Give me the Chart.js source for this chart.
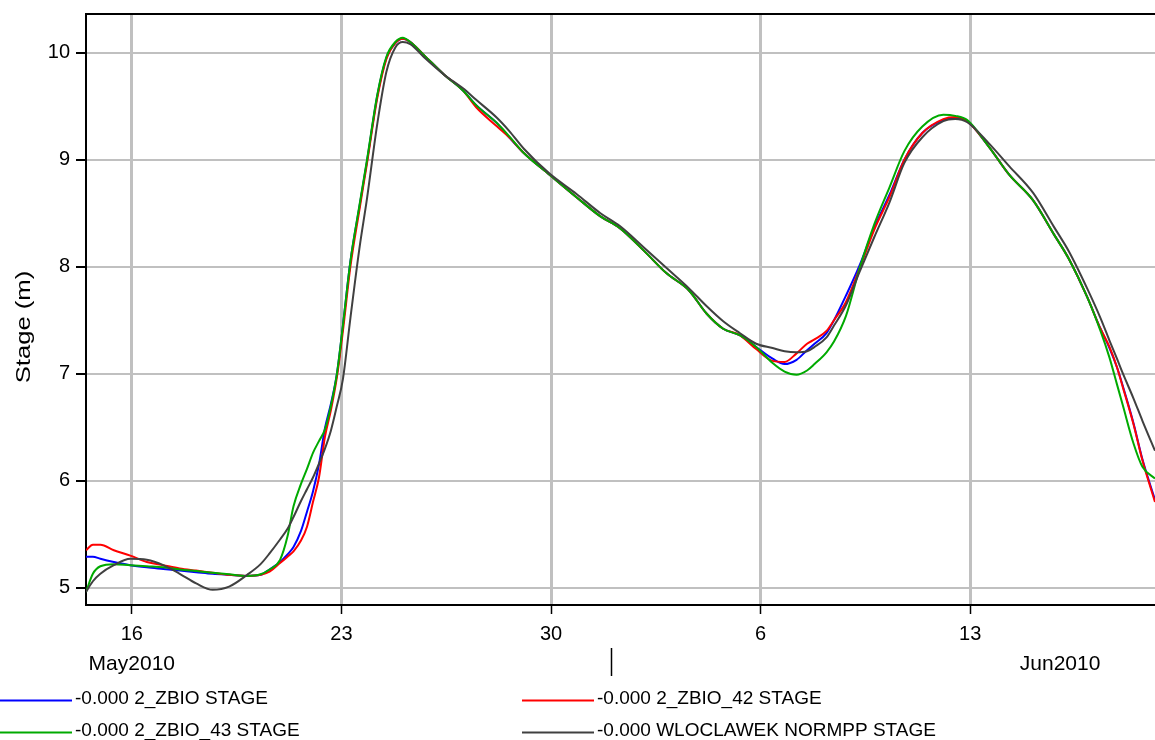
<!DOCTYPE html>
<html>
<head>
    <meta charset="utf-8" />
    <title>Stage</title>
    <script src="https://cdn.jsdelivr.net/npm/chart.js@4.4.0/dist/chart.umd.min.js"></script>
    <style>
        body {
            margin: 0;
            background: #ffffff;
        }
        #wrap {
            width: 1155px;
            height: 740px;
        }
    </style>
</head>
<body>
<div id="wrap">
    <canvas id="stageChart" width="1155" height="740"></canvas>
</div>

<script>
    // day numbers counted from 1 May 2010 (32 = 1 June)
    const days = [14.47, 14.7, 14.95, 15.4, 15.95, 16.5, 17.05, 17.6, 18.15, 18.7,
        19.25, 19.85, 20.3, 20.6, 20.95, 21.2, 21.4, 21.65, 21.85, 22.05,
        22.25, 22.45, 22.65, 22.85, 23.05, 23.3, 23.6, 23.85, 24.2, 24.5,
        24.8, 25.05, 25.3, 25.75, 26.45, 27.05, 27.5, 28.2, 28.6, 29.1,
        29.95, 30.85, 31.65, 32.3, 33.1, 33.85, 34.6, 35.2, 35.75, 36.3,
        36.85, 37.4, 37.8, 38.2, 38.55, 38.8, 39.2, 39.45, 39.85, 40.3,
        40.8, 41.3, 41.8, 42.4, 43.1, 43.5, 43.9, 44.6, 45.3, 46.1,
        46.8, 47.3, 47.9, 48.35, 48.65, 48.9, 49.1, 49.45, 49.75, 50.17];

    const zbioStage = [5.29, 5.29, 5.27, 5.24, 5.21, 5.19, 5.175, 5.16, 5.145, 5.13,
        5.12, 5.11, 5.12, 5.17, 5.24, 5.31, 5.38, 5.53, 5.71, 5.90,
        6.15, 6.49, 6.72, 7.00, 7.45, 8.05, 8.56, 8.98, 9.60, 9.95,
        10.09, 10.13, 10.10, 9.98, 9.79, 9.65, 9.51, 9.34, 9.21, 9.06,
        8.86, 8.65, 8.47, 8.36, 8.15, 7.94, 7.78, 7.56, 7.42, 7.36,
        7.25, 7.14, 7.09, 7.13, 7.22, 7.28, 7.38, 7.50, 7.73, 8.01,
        8.37, 8.67, 9.00, 9.25, 9.37, 9.39, 9.36, 9.13, 8.86, 8.62,
        8.30, 8.07, 7.72, 7.42, 7.24, 7.06, 6.88, 6.54, 6.20, 5.82];

    const zbio42Stage = [5.35, 5.40, 5.40, 5.35, 5.30, 5.24, 5.21, 5.18, 5.16, 5.14,
        5.12, 5.11, 5.12, 5.15, 5.23, 5.29, 5.34, 5.44, 5.57, 5.80,
        6.03, 6.41, 6.66, 6.97, 7.40, 8.00, 8.53, 8.96, 9.58, 9.94,
        10.09, 10.13, 10.10, 9.98, 9.79, 9.65, 9.49, 9.31, 9.21, 9.06,
        8.86, 8.65, 8.47, 8.36, 8.15, 7.94, 7.78, 7.56, 7.42, 7.36,
        7.23, 7.12, 7.11, 7.19, 7.28, 7.32, 7.40, 7.50, 7.67, 7.98,
        8.35, 8.65, 9.00, 9.25, 9.38, 9.40, 9.36, 9.13, 8.86, 8.62,
        8.30, 8.07, 7.72, 7.42, 7.25, 7.06, 6.87, 6.53, 6.19, 5.80];

    const zbio43Stage = [4.96, 5.13, 5.20, 5.22, 5.21, 5.20, 5.19, 5.17, 5.155, 5.14,
        5.125, 5.11, 5.125, 5.17, 5.26, 5.48, 5.76, 5.97, 6.11, 6.26,
        6.37, 6.48, 6.70, 7.00, 7.45, 8.05, 8.57, 8.99, 9.61, 9.96,
        10.10, 10.14, 10.10, 9.98, 9.79, 9.65, 9.51, 9.34, 9.22, 9.06,
        8.86, 8.65, 8.47, 8.36, 8.15, 7.94, 7.78, 7.56, 7.42, 7.36,
        7.25, 7.10, 7.02, 6.99, 7.03, 7.09, 7.20, 7.30, 7.54, 7.98,
        8.40, 8.74, 9.08, 9.31, 9.42, 9.41, 9.37, 9.13, 8.86, 8.62,
        8.30, 8.07, 7.72, 7.40, 7.15, 6.90, 6.70, 6.35, 6.13, 6.02];

    const wloclawekStage = [4.96, 5.06, 5.13, 5.21, 5.27, 5.26, 5.21, 5.13, 5.04, 4.98,
        5.01, 5.12, 5.22, 5.32, 5.45, 5.55, 5.66, 5.81, 5.92, 6.03,
        6.16, 6.30, 6.47, 6.70, 6.95, 7.52, 8.17, 8.63, 9.34, 9.82,
        10.05, 10.10, 10.08, 9.96, 9.79, 9.67, 9.56, 9.39, 9.27, 9.10,
        8.87, 8.68, 8.50, 8.38, 8.18, 7.99, 7.80, 7.63, 7.49, 7.38,
        7.28, 7.24, 7.21, 7.20, 7.21, 7.25, 7.34, 7.45, 7.64, 7.95,
        8.28, 8.60, 8.97, 9.21, 9.36, 9.38, 9.35, 9.16, 8.94, 8.69,
        8.37, 8.14, 7.80, 7.52, 7.31, 7.14, 7.00, 6.77, 6.56, 6.28];

    const seriesNames = ['-0.000 2_ZBIO STAGE', '-0.000 2_ZBIO_42 STAGE',
        '-0.000 2_ZBIO_43 STAGE', '-0.000 WLOCLAWEK NORMPP STAGE'];
    const seriesColors = ['#0000ff', '#ff0000', '#00aa00', '#404040'];

    const tickDays = [16, 23, 30, 37, 44];
    const tickLabels = ['16', '23', '30', '6', '13'];
    const stageTicks = [5, 6, 7, 8, 9, 10];
    const monthLabels = ['May2010', 'Jun2010'];
    const monthLabelDays = [16, 47];
    const monthBreakDay = 32;

    const FONT = "'Liberation Sans', Arial, sans-serif";

    function toPoints(values) {
        return days.map((d, i) => ({ x: d, y: values[i] }));
    }

    const allSeries = [zbioStage, zbio42Stage, zbio43Stage, wloclawekStage];

    // extra drawing: frame top, axis title, month row, legend
    const decorations = {
        id: 'decorations',
        afterDraw(chart) {
            const ctx = chart.ctx;
            const area = chart.chartArea;
            const xs = chart.scales.x;
            ctx.save();

            // top frame line
            ctx.strokeStyle = '#000';
            ctx.lineWidth = 2;
            ctx.beginPath();
            ctx.moveTo(area.left - 1, area.top);
            ctx.lineTo(area.right, area.top);
            ctx.stroke();

            // y title, stretched along its length
            ctx.fillStyle = '#000';
            ctx.font = '21px ' + FONT;
            ctx.textAlign = 'center';
            ctx.textBaseline = 'middle';
            ctx.translate(24, 327);
            ctx.rotate(-Math.PI / 2);
            ctx.scale(1.22, 1);
            ctx.fillText('Stage (m)', 0, 0);
            ctx.setTransform(1, 0, 0, 1, 0, 0);

            // month names and the month break marker
            ctx.font = '21px ' + FONT;
            ctx.textBaseline = 'alphabetic';
            monthLabels.forEach((m, i) => {
                ctx.fillText(m, xs.getPixelForValue(monthLabelDays[i]), 670);
            });
            const bx = Math.round(xs.getPixelForValue(monthBreakDay)) + 0.5;
            ctx.lineWidth = 1.5;
            ctx.beginPath();
            ctx.moveTo(bx, 648);
            ctx.lineTo(bx, 676);
            ctx.stroke();

            // legend, two columns
            const cols = [0, 522];
            const rows = [700.5, 732.5];
            ctx.font = '19px ' + FONT;
            ctx.textAlign = 'left';
            chart.data.datasets.forEach((ds, i) => {
                const x0 = cols[i % 2];
                const y0 = rows[Math.floor(i / 2)];
                ctx.strokeStyle = ds.borderColor;
                ctx.lineWidth = 2;
                ctx.beginPath();
                ctx.moveTo(x0, y0);
                ctx.lineTo(x0 + 72, y0);
                ctx.stroke();
                ctx.fillStyle = '#000';
                ctx.fillText(ds.label, x0 + 75, y0 + 3.5);
            });
            ctx.restore();
        }
    };

    const stageChart = new Chart(document.getElementById('stageChart'), {
        type: 'line',
        data: {
            datasets: allSeries.map((values, i) => ({
                label: seriesNames[i],
                data: toPoints(values),
                borderColor: seriesColors[i],
                borderWidth: 2,
                pointRadius: 0,
                cubicInterpolationMode: 'monotone',
                fill: false,
                order: 4 - i
            }))
        },
        options: {
            responsive: false,
            animation: false,
            layout: {
                padding: { left: 0, right: 0, top: 14, bottom: 65 }
            },
            plugins: {
                legend: { display: false },
                tooltip: { enabled: false }
            },
            scales: {
                x: {
                    type: 'linear',
                    min: 14.47,
                    max: 50.17,
                    afterFit(scale) {
                        scale.height = 70;
                        scale.paddingLeft = 0;
                        scale.paddingRight = 0;
                    },
                    afterBuildTicks(scale) {
                        scale.ticks = tickDays.map(v => ({ value: v }));
                    },
                    border: { display: true, color: '#000', width: 2 },
                    grid: {
                        color: '#c0c0c0',
                        lineWidth: 3,
                        tickColor: '#000',
                        tickLength: 9,
                        tickWidth: 1.5
                    },
                    ticks: {
                        color: '#000',
                        font: { family: FONT, size: 20 },
                        padding: 8,
                        maxRotation: 0,
                        callback: (value, index) => tickLabels[index]
                    }
                },
                y: {
                    min: 4.838,
                    max: 10.362,
                    afterFit(scale) {
                        scale.width = 86;
                        scale.paddingTop = 0;
                        scale.paddingBottom = 0;
                    },
                    afterBuildTicks(scale) {
                        scale.ticks = stageTicks.map(v => ({ value: v }));
                    },
                    border: { display: true, color: '#000', width: 2 },
                    grid: {
                        color: '#c0c0c0',
                        lineWidth: 2,
                        tickColor: '#000',
                        tickLength: 10,
                        tickWidth: 2
                    },
                    ticks: {
                        color: '#000',
                        font: { family: FONT, size: 20 },
                        padding: 6,
                        callback: value => String(value)
                    }
                }
            }
        },
        plugins: [decorations]
    });
</script>
</body>
</html>
